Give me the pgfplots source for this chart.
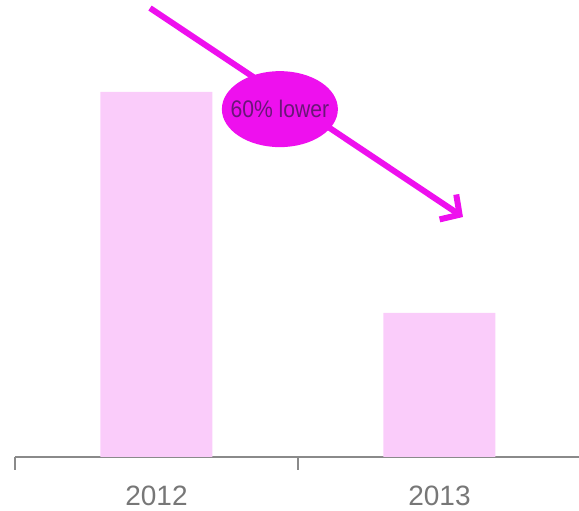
\documentclass[border=0pt]{standalone}
\usepackage{pgfplots}
\pgfplotsset{compat=1.18}
\usepackage{fontspec}
\setmainfont{Liberation Sans}
\usetikzlibrary{arrows.meta}
\definecolor{barpink}{HTML}{FACCFA}
\definecolor{arrowmag}{HTML}{EE10EE}
\definecolor{txtpurple}{HTML}{6A1678}
\definecolor{axisgray}{HTML}{8A8A8A}
\definecolor{labelgray}{HTML}{777777}
\begin{document}
\begin{tikzpicture}
\useasboundingbox (0,0) rectangle (579pt,511pt);
\begin{axis}[
  at={(15pt,54pt)}, anchor=south west,
  scale only axis, width=564pt, height=457pt,
  xmin=0, xmax=1.993, ymin=0, ymax=125.2,
  axis x line*=bottom, hide y axis,
  axis line style={draw=axisgray, line width=1.2pt},
  xtick={0,1}, xticklabels={},
  tick align=outside, major tick length=13pt,
  every tick/.style={draw=axisgray, line width=1.2pt},
  extra x ticks={0.5,1.5},
  extra x tick labels={2012,2013},
  extra x tick style={major tick length=0pt,
    tick label style={yshift=-25pt, font=\fontsize{28}{30}\selectfont, text=labelgray}},
  clip=false,
]
\addplot[ybar, bar width=112pt, fill=barpink, draw=none] coordinates {(0.5,100) (1.5,39.5)};
\draw[arrowmag, line width=6pt, -{Straight Barb[length=14pt, width=30pt, line width=6pt]}]
  (axis cs:0.477,123.0) -- (axis cs:1.583,65.75);
\fill[arrowmag] (axis cs:0.936,95.3) ellipse [x radius=58pt, y radius=38pt];
\node[inner sep=0pt, text=txtpurple, font=\fontsize{24}{26}\selectfont, xscale=0.88]
  at (axis cs:0.936,95.3) {60\% lower};
\end{axis}
\end{tikzpicture}
\end{document}
